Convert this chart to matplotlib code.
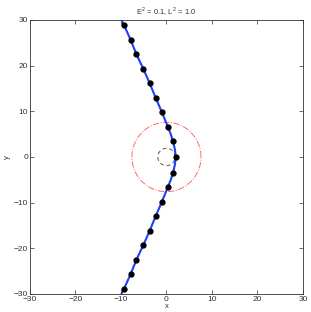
import numpy as np
import matplotlib
matplotlib.use('Agg')
import matplotlib.pyplot as plt

# orbit samples (markers)
orbit_x = [-9.3, -7.9, -6.6, -5.1, -3.7, -2.4, -1.0, 0.3, 1.45, 2.05,
           1.45, 0.3, -1.0, -2.4, -3.7, -5.1, -6.6, -7.9, -9.3]
orbit_y = [28.8, 25.7, 22.5, 19.3, 16.2, 13.0, 9.8, 6.6, 3.4, 0.0,
           -3.4, -6.6, -9.8, -13.0, -16.2, -19.3, -22.5, -25.7, -28.8]

# curve path (markers plus the ends and a few apex points)
curve_x = [-9.9, -9.3, -7.9, -6.6, -5.1, -3.7, -2.4, -1.0, 0.3, 0.95, 1.45, 1.85, 2.05,
           1.85, 1.45, 0.95, 0.3, -1.0, -2.4, -3.7, -5.1, -6.6, -7.9, -9.3, -9.9]
curve_y = [30.0, 28.8, 25.7, 22.5, 19.3, 16.2, 13.0, 9.8, 6.6, 5.0, 3.4, 1.7, 0.0,
           -1.7, -3.4, -5.0, -6.6, -9.8, -13.0, -16.2, -19.3, -22.5, -25.7, -28.8, -30.0]

r_inner = 1.9
r_outer = 7.6
title = r'E$^2$ = 0.1, L$^2$ = 1.0'

plt.rcParams['font.family'] = ['Liberation Sans', 'DejaVu Sans']
plt.rcParams['mathtext.fontset'] = 'custom'
plt.rcParams['mathtext.rm'] = 'Liberation Sans'

fig = plt.figure(figsize=(3.11, 3.12), dpi=100)
ax = fig.add_axes([0.0965, 0.0577, 0.8775, 0.8783])

th = np.linspace(0, 2 * np.pi, 200)
ax.plot(r_outer * np.cos(th), r_outer * np.sin(th), color='#ff6666', linestyle='-.', linewidth=0.7)
ax.plot(r_inner * np.cos(th), r_inner * np.sin(th), color='#555555', linestyle='--', linewidth=0.7,
        dashes=(4, 3))
ax.plot(curve_x, curve_y, color='#1f3fff', linewidth=1.5)
ax.plot(orbit_x, orbit_y, 'o', color='k', markersize=3.5)

ax.set_xlim(-30, 30)
ax.set_ylim(-30, 30)
ax.set_xticks(np.arange(-30, 31, 10))
ax.set_yticks(np.arange(-30, 31, 10))
ax.tick_params(direction='in', top=True, right=True, length=3, width=0.5,
               labelsize=6, colors='#333333', pad=1.5)
for s in ax.spines.values():
    s.set_linewidth(0.6)
    s.set_color('#333333')
ax.set_title(title, fontsize=5.5, color='#333333', pad=4)
ax.set_xlabel('x', fontsize=5.5, color='#333333', labelpad=0)
ax.set_ylabel('y', fontsize=5.5, color='#333333', labelpad=2)

fig.savefig('out.png', dpi=100)
